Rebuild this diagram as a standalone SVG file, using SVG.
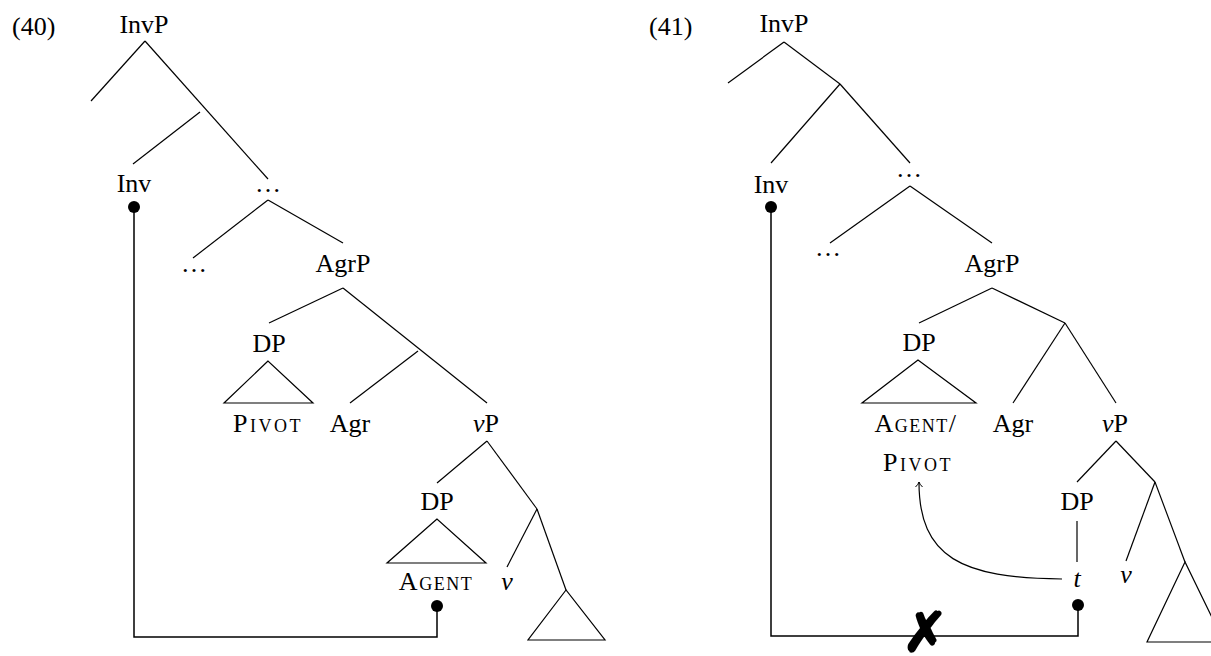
<svg xmlns="http://www.w3.org/2000/svg" width="1211" height="656" viewBox="0 0 1211 656">
<defs>
<style>
text{font-family:"Liberation Serif","DejaVu Serif",serif;font-size:26px;fill:#000;text-anchor:middle}
.sc{font-variant:small-caps;letter-spacing:1.5px}
.it{font-style:italic}
.num{text-anchor:start}
line,polygon,path{stroke:#000;fill:none;stroke-width:1.2}
.conn{stroke-width:1.5}
.dot{fill:#000;stroke:none}
.x{font-family:"DejaVu Sans",sans-serif;font-size:54px;stroke:#000;stroke-width:2.5}
</style>
<marker id="arr" viewBox="-6 -5 8 10" markerWidth="8" markerHeight="10" refX="0" refY="0" orient="auto" markerUnits="userSpaceOnUse">
<path d="M-5,-3.5 Q-2,-0.5 0,0 Q-2,0.5 -5,3.5" style="stroke-width:1"/>
</marker>
</defs>
<rect width="1211" height="656" fill="#fff"/>

<text class="num" x="12" y="35">(40)</text>
<text class="num" x="649" y="35">(41)</text>

<!-- Left tree nodes -->
<g id="L-InvP"><text x="144" y="33">InvP</text></g>
<g id="L-Inv"><text x="134" y="192">Inv</text><circle class="dot" cx="134" cy="207" r="6"/></g>
<g id="L-dots1"><text x="268" y="192">…</text></g>
<g id="L-dots2"><text x="194" y="272">…</text></g>
<g id="L-AgrP"><text x="343" y="272">AgrP</text></g>
<g id="L-DP1"><text x="269" y="352">DP</text><polygon points="268,361 224,403 313,403"/></g>
<g id="L-Pivot"><text class="sc" x="268" y="432" style="letter-spacing:2.5px">Pivot</text></g>
<g id="L-Agr"><text x="350" y="432">Agr</text></g>
<g id="L-vP"><text x="486" y="432"><tspan class="it">v</tspan>P</text></g>
<g id="L-DP2"><text x="437" y="510">DP</text><polygon points="437,519 387,563 486,563"/></g>
<g id="L-Agent"><text class="sc" x="436" y="590">Agent</text><circle class="dot" cx="437" cy="606" r="6"/></g>
<g id="L-v"><text class="it" x="507" y="590">v</text></g>
<g id="L-tri"><polygon points="566,590 528,640 605,640"/></g>

<!-- Right tree nodes -->
<g id="R-InvP"><text x="784" y="32">InvP</text></g>
<g id="R-Inv"><text x="771" y="193">Inv</text><circle class="dot" cx="771" cy="207" r="6"/></g>
<g id="R-dots1"><text x="909" y="177">…</text></g>
<g id="R-dots2"><text x="828" y="256">…</text></g>
<g id="R-AgrP"><text x="992" y="272">AgrP</text></g>
<g id="R-DP1"><text x="919" y="351">DP</text><polygon points="918,360 862,403 976,403"/></g>
<g id="R-AgentPivot"><text class="sc" x="916" y="432">Agent/</text><text class="sc" x="918" y="471" style="letter-spacing:2.5px">Pivot</text></g>
<g id="R-Agr"><text x="1013" y="432">Agr</text></g>
<g id="R-vP"><text x="1115" y="432"><tspan class="it">v</tspan>P</text></g>
<g id="R-DP2"><text x="1077" y="510">DP</text></g>
<g id="R-t"><text class="it" x="1077" y="587">t</text><circle class="dot" cx="1078" cy="605" r="6"/></g>
<g id="R-v"><text class="it" x="1126" y="583">v</text></g>
<g id="R-tri"><polygon points="1185,562 1147,642 1224,642"/></g>

<!-- Connectors -->
<g id="connectors">
<line x1="145" y1="41" x2="91" y2="101"/>
<line x1="145" y1="41" x2="268" y2="179"/>
<line x1="200" y1="112" x2="133" y2="164"/>
<line x1="268" y1="200" x2="193" y2="258"/>
<line x1="268" y1="200" x2="343" y2="243"/>
<line x1="343" y1="288" x2="269" y2="323"/>
<line x1="343" y1="288" x2="487" y2="403"/>
<line x1="418" y1="351" x2="350" y2="403"/>
<line x1="487" y1="441" x2="437" y2="483"/>
<line x1="487" y1="441" x2="537" y2="509"/>
<line x1="537" y1="509" x2="507" y2="567"/>
<line x1="537" y1="509" x2="566" y2="590"/>
<path class="conn" d="M134,207 V637 H437 V606"/>

<line x1="784" y1="42" x2="728" y2="83"/>
<line x1="784" y1="42" x2="840" y2="84"/>
<line x1="840" y1="84" x2="771" y2="163"/>
<line x1="840" y1="84" x2="910" y2="163"/>
<line x1="910" y1="186" x2="830" y2="243"/>
<line x1="910" y1="186" x2="992" y2="243"/>
<line x1="992" y1="288" x2="919" y2="323"/>
<line x1="992" y1="288" x2="1065" y2="323"/>
<line x1="1065" y1="323" x2="1013" y2="403"/>
<line x1="1065" y1="323" x2="1116" y2="403"/>
<line x1="1116" y1="441" x2="1077" y2="482"/>
<line x1="1116" y1="441" x2="1155" y2="482"/>
<line x1="1077" y1="521" x2="1077" y2="562"/>
<line x1="1155" y1="482" x2="1126" y2="561"/>
<line x1="1155" y1="482" x2="1185" y2="562"/>
<path class="conn" d="M771,207 V636 H1078 V605"/>
<path d="M1062,579 C962,578 919,558 919,482" marker-end="url(#arr)"/>
<text class="x" x="925" y="651">✗</text>
</g>
</svg>
